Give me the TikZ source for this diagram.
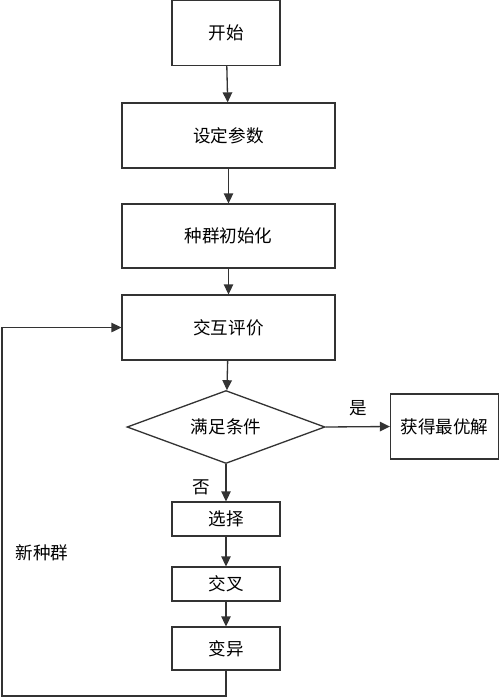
\documentclass[tikz,border=0pt]{standalone}
\usepackage{fontspec}
\newfontfamily\cjk{Noto Sans CJK SC}
\usepackage{tikz}
\usetikzlibrary{arrows.meta, positioning, shapes.geometric}
\definecolor{flowline}{HTML}{333333}

\begin{document}
\begin{tikzpicture}[
  x=0.02cm, y=-0.02cm,
  box/.style={draw=flowline, line width=0.75pt, inner sep=0pt,
    font=\cjk\fontsize{10}{12}\selectfont},
  cond/.style={diamond, draw=flowline, line width=0.75pt, inner sep=0pt,
    aspect=2.7, minimum width=3.96cm, minimum height=1.46cm,
    font=\cjk\fontsize{10}{12}\selectfont},
  flow/.style={draw=flowline, line width=0.75pt,
    -{Triangle[length=0.2cm, width=0.19cm]}},
  lbl/.style={font=\cjk\fontsize{10}{12}\selectfont, inner sep=0pt}
]
  \useasboundingbox (0,0) rectangle (500,697);
  % Main column
  \node[box, minimum width=2.16cm, minimum height=1.3cm]
    (start) at (226,33) {开始};
  \node[box, minimum width=4.26cm, minimum height=1.3cm]
    (param) at (228.5,135.5) {设定参数};
  \node[box, minimum width=4.26cm, minimum height=1.28cm]
    (init) at (228.5,236) {种群初始化};
  \node[box, minimum width=4.26cm, minimum height=1.3cm]
    (eval) at (228.5,327.5) {交互评价};
  \node[cond] (check) at (226,427) {满足条件};
  \node[box, minimum width=2.16cm, minimum height=1.3cm]
    (best) at (444.5,426.5) {获得最优解};
  % GA operators
  \node[box, minimum width=2.16cm, minimum height=0.68cm]
    (sel) at (226,519) {选择};
  \node[box, minimum width=2.16cm, minimum height=0.68cm]
    (cross) at (226,584) {交叉};
  \node[box, minimum width=2.16cm, minimum height=0.86cm]
    (mut) at (226,648.5) {变异};
  % Arrows
  \draw[flow] (start) -- (param);
  \draw[flow] (param) -- (init);
  \draw[flow] (init) -- (eval);
  \draw[flow] (eval) -- (check);
  \draw[flow] (check.east) -- (best.west);
  \draw[flow] (check.south) -- (sel.north);
  \draw[flow] (sel) -- (cross);
  \draw[flow] (cross) -- (mut);
  % Loop back
  \coordinate (loopcorner) at (2,696);
  \draw[flow] (mut.south) |- (loopcorner) |- (eval.west);
  % Labels
  \node[lbl] (yes) at (358,408) {是};
  \node[lbl] (no) at (201,487) {否};
  \node[lbl] (newpop) at (42,553) {新种群};
\end{tikzpicture}
\end{document}
